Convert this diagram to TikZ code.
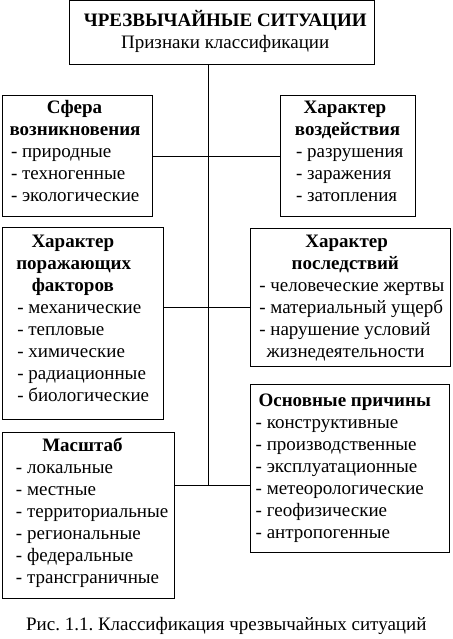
\documentclass[tikz,border=0pt]{standalone}
\usepackage{fontspec}
\setmainfont{Liberation Serif}
\frenchspacing
\newcommand\rowbox[1]{\hbox{#1}}
\newcommand\ctr[2]{\hbox{\kern#1pt\makebox[0pt]{\bfseries #2}}}
\newcommand\cstack[1]{\vtop{\baselineskip=22pt\lineskiplimit=-100pt\lineskip=0pt #1}}
\tikzset{
  box/.style={draw, line width=1pt, inner sep=0pt, outer sep=0pt, anchor=center},
  txt/.style={inner sep=0pt, outer sep=0pt, anchor=base west, font=\fontsize{19}{22}\selectfont},
  link/.style={line width=1pt}
}
\begin{document}
\begin{tikzpicture}[x=1pt,y=-1pt]
\useasboundingbox (0,0) rectangle (452,639);
% boxes
\node[box, minimum width=305pt, minimum height=64pt] (top) at (221.5,33) {};
\node[box, minimum width=150pt, minimum height=120pt] (sfera) at (77,156) {};
\node[box, minimum width=135.5pt, minimum height=120pt] (vozd) at (347.75,156) {};
\node[box, minimum width=161.3pt, minimum height=192pt] (por) at (82.65,323.3) {};
\node[box, minimum width=200.7pt, minimum height=138.4pt] (posl) at (350.35,297.5) {};
\node[box, minimum width=199.3pt, minimum height=168.7pt] (osn) at (349.65,468.35) {};
\node[box, minimum width=172.3pt, minimum height=166pt] (mas) at (88.15,515.3) {};
% texts
\node[txt] (ttop) at (224.7,27) {\cstack{
  \hbox{\makebox[0pt]{\bfseries ЧРЕЗВЫЧАЙНЫЕ СИТУАЦИИ}}
  \hbox{\makebox[0pt]{Признаки классификации}}}};
\node[txt] (tsfera) at (11,114) {\cstack{
  \ctr{63.5}{Сфера}
  \ctr{64}{возникновения}
  \rowbox{- природные}
  \rowbox{- техногенные}
  \rowbox{- экологические}}};
\node[txt] (tvozd) at (296,114) {\cstack{
  \ctr{49}{Характер}
  \ctr{51.5}{воздействия}
  \rowbox{- разрушения}
  \rowbox{- заражения}
  \rowbox{- затопления}}};
\node[txt] (tpor) at (17.3,247) {\cstack{
  \ctr{55.5}{Характер}
  \ctr{56.4}{поражающих}
  \ctr{55.5}{факторов}
  \rowbox{- механические}
  \rowbox{- тепловые}
  \rowbox{- химические}
  \rowbox{- радиационные}
  \rowbox{- биологические}}};
\node[txt] (tposl) at (259.3,247) {\cstack{
  \ctr{87.4}{Характер}
  \ctr{86}{последствий}
  \rowbox{- человеческие жертвы}
  \rowbox{- материальный ущерб}
  \rowbox{- нарушение условий}
  \rowbox{\kern7.4pt жизнедеятельности}}};
\node[txt] (tosn) at (255.7,406) {\cstack{
  \ctr{89}{Основные причины}
  \rowbox{- конструктивные}
  \rowbox{- производственные}
  \rowbox{- эксплуатационные}
  \rowbox{- метеорологические}
  \rowbox{- геофизические}
  \rowbox{- антропогенные}}};
\node[txt] (tmas) at (16,451) {\cstack{
  \ctr{66.5}{Масштаб}
  \rowbox{- локальные}
  \rowbox{- местные}
  \rowbox{- территориальные}
  \rowbox{- региональные}
  \rowbox{- федеральные}
  \rowbox{- трансграничные}}};
\node[txt, anchor=base] (cap) at (226.3,630) {Рис. 1.1. Классификация чрезвычайных ситуаций};
% connectors
\coordinate (j1) at (208.3,156.3);
\coordinate (j2) at (208.3,307.7);
\coordinate (j3) at (208.3,485);
\draw[link] (j3 |- top.south) -- (j3);
\draw[link] (j1 -| sfera.east) -- (j1 -| vozd.west);
\draw[link] (j2 -| por.east) -- (j2 -| posl.west);
\draw[link] (j3 -| mas.east) -- (j3 -| osn.west);
\end{tikzpicture}
\end{document}
